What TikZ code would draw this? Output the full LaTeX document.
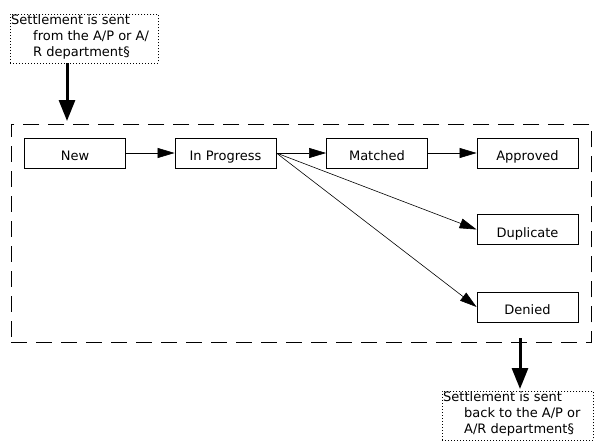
\documentclass[tikz,border=0pt]{standalone}
\usepackage{fontspec}
\setmainfont{DejaVu Sans}
\usetikzlibrary{arrows.meta}
\begin{document}
\begin{tikzpicture}[x=1pt,y=-1pt,
  every node/.style={font=\fontsize{13}{16}\selectfont},
  state/.style={draw=black,line width=0.8pt,minimum width=101pt,minimum height=30pt,inner sep=0pt,text height=15.5pt,text depth=0pt},
  notebox/.style={draw=black,line width=0.8pt,dash pattern=on 1pt off 2pt,minimum width=148pt,minimum height=49pt,inner sep=0pt},
  notetext/.style={align=left,inner sep=0pt,anchor=north west},
  frame/.style={draw=black,line width=0.9pt,dash pattern=on 16pt off 9pt,minimum width=580pt,minimum height=218pt,inner sep=0pt},
  thin/.style={line width=0.6pt,-{Triangle[length=17pt,width=10pt]}},
  thick/.style={line width=3pt,-{Triangle[length=21pt,width=16pt]}}
]
\useasboundingbox (0,0) rectangle (599,444);
% container
\node[frame,anchor=north west] (container) at (11,124) {};
% source note
\node[notebox,anchor=north west] (src) at (10,14) {};
\node[notetext] (srctext) at (11,14) {Settlement is sent\\\hspace*{22pt}from the A/P or A/\\\hspace*{22pt}R department§};
% destination note
\node[notebox,anchor=north west,minimum width=151pt] (dst) at (442,391) {};
\node[notetext] (dsttext) at (443,391) {Settlement is sent\\\hspace*{21pt}back to the A/P or\\\hspace*{21pt}A/R department§};
% states
\node[state] (new) at (75,153) {New};
\node[state] (prog) at (225.5,153) {In Progress};
\node[state] (match) at (377,153) {Matched};
\node[state] (appr) at (527.5,153) {Approved};
\node[state] (dup) at (527.5,229.5) {Duplicate};
\node[state] (den) at (527.5,307) {Denied};
% connectors
\draw[thin] (new.east) -- (prog.west);
\draw[thin] (prog.east) -- (match.west);
\draw[thin] (match.east) -- (appr.west);
\draw[thin] (prog.east) -- (dup.west);
\draw[thin] (prog.east) -- (den.west);
\coordinate (t1) at (67,63);
\coordinate (t2) at (67,121);
\draw[thick] (t1) -- (t2);
\coordinate (b1) at (520,338);
\coordinate (b2) at (520,389);
\draw[thick] (b1) -- (b2);
\end{tikzpicture}
\end{document}
